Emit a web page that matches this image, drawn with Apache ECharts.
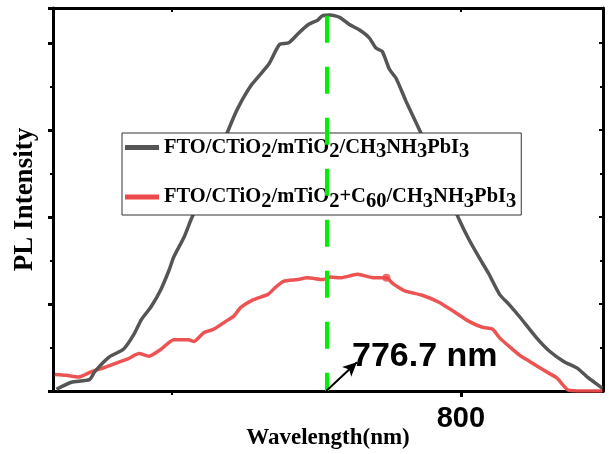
<!DOCTYPE html>
<html>
<head>
<meta charset="utf-8">
<script src="https://cdn.jsdelivr.net/npm/echarts@6/dist/echarts.min.js"></script>
<style>
  html, body { margin: 0; padding: 0; background: #fff; }
  #chart { width: 609px; height: 454px; }
</style>
</head>
<body>
<div id="chart"></div>
<script>
// wavelength (nm) / intensity
const blackX = [730.0, 732.6, 735.7, 736.6, 739.1, 741.6, 743.4, 744.7, 746.4, 748.1, 749.5, 750.3, 752.1, 753.3,
  756.7, 759.7, 761.4, 763.8, 766.7, 768.6, 770.2, 771.9, 773.6, 775.2, 776.0, 777.4, 779.1, 780.7, 782.4,
  784.1, 785.3, 786.4, 787.6, 788.8, 790.5, 792.9, 796.4, 799.7, 801.4, 803.1, 804.8, 806.7, 808.4, 810.2,
  813.1, 815.3, 817.8, 820.2, 821.9, 823.1, 824.5];
const blackY = [0.02, 0.10, 0.13, 0.22, 0.39, 0.48, 0.65, 0.82, 0.97, 1.17, 1.39, 1.54, 1.77, 1.97,
  2.48, 2.99, 3.25, 3.52, 3.75, 3.98, 4.00, 4.11, 4.21, 4.26, 4.31, 4.32, 4.29, 4.21, 4.15,
  4.06, 3.94, 3.90, 3.70, 3.59, 3.33, 2.99, 2.48, 1.97, 1.74, 1.54, 1.35, 1.11, 0.99, 0.85,
  0.61, 0.46, 0.34, 0.26, 0.16, 0.10, 0.03];

const redX = [729.7, 731.7, 733.8, 736.0, 738.3, 740.7, 742.4, 744.3, 746.0, 748.1, 750.3, 752.8, 753.8, 755.5,
  757.2, 759.3, 760.7, 761.9, 764.1, 766.6, 767.9, 769.3, 771.7, 773.4, 776.2, 777.4, 779.1, 782.1, 785.0,
  787.1, 788.3, 790.3, 793.3, 796.2, 799.1, 801.4, 803.8, 805.5, 806.7, 808.4, 810.2, 811.9, 814.3, 816.6,
  818.6, 821.2, 824.5];
const redY = [0.19, 0.18, 0.16, 0.22, 0.27, 0.33, 0.37, 0.43, 0.40, 0.48, 0.59, 0.59, 0.57, 0.67,
  0.71, 0.80, 0.86, 0.96, 1.05, 1.11, 1.19, 1.26, 1.28, 1.30, 1.28, 1.31, 1.30, 1.34, 1.30,
  1.30, 1.23, 1.15, 1.10, 1.02, 0.90, 0.80, 0.73, 0.71, 0.61, 0.51, 0.41, 0.34, 0.24, 0.15,
  0.01, 0.00, 0.00];

const peakNm = 776.7;
const peakTop = 4.31;
const redDot = [787.1, 1.30];
const arrowEnd = [782.0, 0.33];

const seriesNames = ['FTO/CTiO2/mTiO2/CH3NH3PbI3', 'FTO/CTiO2/mTiO2+C60/CH3NH3PbI3'];
// rich-text version for the legend (subscripts)
const legendText = {
  'FTO/CTiO2/mTiO2/CH3NH3PbI3': '{n|FTO/CTiO}{s|2}{n|/mTiO}{s|2}{n|/CH}{s|3}{n|NH}{s|3}{n|PbI}{s|3}',
  'FTO/CTiO2/mTiO2+C60/CH3NH3PbI3': '{n|FTO/CTiO}{s|2}{n|/mTiO}{s|2}{n|+C}{s|60}{n|/CH}{s|3}{n|NH}{s|3}{n|PbI}{s|3}'
};

const xTicks = [800];
const xMinor = [750];

const chart = echarts.init(document.getElementById('chart'));

const blackData = blackX.map((x, i) => [x, blackY[i]]);
const redData = redX.map((x, i) => [x, redY[i]]);

const serif = '"Liberation Serif", "Times New Roman", serif';
const sans = '"Liberation Sans", Arial, sans-serif';

const xMin = 729.4, xMax = 824.6;

chart.setOption({
  animation: false,
  backgroundColor: '#fff',
  grid: { left: 53, top: 8, width: 550, height: 383, containLabel: false, outerBoundsMode: 'none' },
  legend: {
    orient: 'vertical',
    left: 122,
    top: 133,
    data: [
      { name: seriesNames[0], icon: 'rect', itemStyle: { color: '#555' } },
      { name: seriesNames[1], icon: 'rect', itemStyle: { color: '#ec4a4a' } }
    ],
    itemWidth: 34,
    itemHeight: 5,
    itemGap: 24,
    padding: [4, 5, 3, 3],
    borderColor: '#333',
    borderWidth: 1,
    backgroundColor: '#fff',
    selectedMode: false,
    formatter: name => legendText[name],
    textStyle: {
      rich: {
        n: { fontFamily: serif, fontWeight: 'bold', fontSize: 20.5, color: '#000' },
        s: { fontFamily: serif, fontWeight: 'bold', fontSize: 20.5, color: '#000', padding: [9, 0, 0, 0] }
      }
    }
  },
  xAxis: [
    {
      type: 'value', min: xMin, max: xMax, position: 'bottom',
      axisLine: { lineStyle: { color: '#000', width: 3 } },
      axisTick: { customValues: xTicks, length: 6, lineStyle: { width: 3, color: '#000' } },
      axisLabel: { customValues: xTicks, fontFamily: sans, fontWeight: 'bold', fontSize: 29, color: '#000', margin: 13 },
      splitLine: { show: false },
      name: 'Wavelength(nm)', nameLocation: 'middle', nameGap: 36, nameMoveOverlap: false,
      nameTextStyle: { fontFamily: serif, fontWeight: 'bold', fontSize: 23, color: '#000' }
    },
    {
      type: 'value', min: xMin, max: xMax, position: 'bottom',
      axisLine: { show: false },
      axisTick: { customValues: xMinor, length: 4, lineStyle: { width: 2, color: '#000' } },
      axisLabel: { show: false },
      splitLine: { show: false }
    },
    {
      type: 'value', min: xMin, max: xMax, position: 'top',
      axisLine: { lineStyle: { color: '#000', width: 3 } },
      axisTick: { customValues: xMinor.concat(xTicks), inside: true, length: 4, lineStyle: { width: 2, color: '#000' } },
      axisLabel: { show: false },
      splitLine: { show: false }
    }
  ],
  yAxis: [
    {
      type: 'value', min: 0, max: 4.4, interval: 1, position: 'left',
      axisLine: { show: true, lineStyle: { color: '#000', width: 3 } },
      axisTick: { show: true, length: 5, lineStyle: { width: 3, color: '#000' } },
      minorTick: { show: true, splitNumber: 2, length: 3, lineStyle: { width: 2, color: '#000' } },
      axisLabel: { show: false },
      splitLine: { show: false },
      name: 'PL Intensity', nameLocation: 'middle', nameGap: 14, nameMoveOverlap: false,
      nameTextStyle: { fontFamily: serif, fontWeight: 'bold', fontSize: 27, color: '#000' }
    },
    {
      type: 'value', min: 0, max: 4.4, interval: 1, position: 'right',
      axisLine: { show: true, lineStyle: { color: '#000', width: 3 } },
      axisTick: { show: true, inside: true, length: 4, lineStyle: { width: 2, color: '#000' } },
      minorTick: { show: true, splitNumber: 2, length: 3, lineStyle: { width: 2, color: '#000' } },
      axisLabel: { show: false },
      splitLine: { show: false }
    }
  ],
  series: [
    {
      name: seriesNames[0], type: 'line', data: blackData, symbol: 'none', smooth: 0.2,
      lineStyle: { color: '#555', width: 3.5 }, itemStyle: { color: '#555' },
      z: 3,
      markLine: {
        silent: true, symbol: 'none', animation: false,
        label: { show: false },
        lineStyle: { color: '#00ee00', width: 4, type: [27, 24] },
        data: [[{ coord: [peakNm, peakTop] }, { coord: [peakNm, 0] }]]
      }
    },
    {
      name: seriesNames[1], type: 'line', data: redData, symbol: 'none', smooth: 0.2,
      lineStyle: { color: '#ec4a4a', width: 3.5, opacity: 0.95 }, itemStyle: { color: '#ec4a4a' },
      z: 2,
      markLine: {
        silent: true, animation: false,
        label: { show: false },
        symbolSize: [10, 14],
        lineStyle: { color: '#000', width: 2, type: 'solid', opacity: 1 },
        itemStyle: { color: '#000' },
        data: [[{ coord: [peakNm, 0], symbol: 'none' }, { coord: arrowEnd, symbol: 'arrow' }]]
      }
    },
    {
      name: 'dot', type: 'scatter', data: [redDot], symbolSize: 8,
      itemStyle: { color: '#ec4a4a' }, z: 4
    }
  ],
  graphic: [
    {
      type: 'text', left: 352, top: 340,
      style: { text: '776.7 nm', font: 'bold 34px "Liberation Sans", Arial, sans-serif', fill: '#000' },
      z: 10
    }
  ]
});
</script>
</body>
</html>
